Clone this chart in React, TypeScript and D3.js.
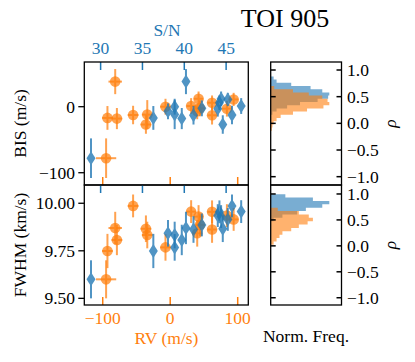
import React from 'react';
import * as d3 from 'd3';

// one entry per spectrum
const rv = [-95, -81.5, -93, -79, -55, -36, -34, -7, 31, 40, 62, 62, 94, 44, 84, 42];
const rvErr = [15, 10, 8, 8, 8, 8, 8, 8, 7, 7, 7, 7, 7, 7, 7, 7];
const snr = [28.85, 40.2, 36.3, 39.7, 45.7, 44.6, 38.85, 38.85, 46.8, 38.05, 41.1, 44.2, 45.2, 42.1, 44.0, 44.4];
const bis = [-78, 38, -17, -18, -12.6, -27, -12, 0, 1, -7, -13, 6, 11, -2.5, -3, 12];
const bisErr = [30, 19, 18, 16, 14, 14, 22, 12, 12, 12, 14, 11, 10, 12, 12, 11];
const fwhm = [9.6, 9.87, 9.749, 9.807, 9.986, 9.866, 9.833, 9.768, 9.956, 9.842, 9.862, 9.955, 9.915, 9.886, 9.935, 9.93];
const fwhmErr = [0.1, 0.085, 0.09, 0.08, 0.06, 0.07, 0.07, 0.07, 0.06, 0.07, 0.07, 0.06, 0.06, 0.06, 0.06, 0.06];

// correlation coefficient histograms (normalised frequency)
const bisRhoEdges = [-0.14, -0.08, -0.02, 0.04, 0.1, 0.16, 0.22, 0.28, 0.34, 0.4, 0.46, 0.52, 0.58, 0.64, 0.7, 0.76, 0.82, 0.88];
const bisRhoRv = [0.02, 0.03, 0.05, 0.1, 0.17, 0.38, 0.62, 0.9, 1.0, 0.97, 0.88, 0.65, 0.38, 0.06, 0, 0, 0];
const bisRhoSnr = [0, 0, 0, 0, 0, 0.03, 0.1, 0.28, 0.5, 0.8, 0.98, 1.0, 0.88, 0.68, 0.35, 0.1, 0.05];
const fwhmRhoEdges = [0.02, 0.085, 0.15, 0.215, 0.28, 0.345, 0.41, 0.475, 0.54, 0.605, 0.67, 0.735, 0.8, 0.865, 0.93, 0.995];
const fwhmRhoRv = [0.05, 0.1, 0.15, 0.2, 0.35, 0.48, 0.63, 0.72, 0.65, 0.48, 0.12, 0, 0, 0, 0];
const fwhmRhoSnr = [0, 0, 0, 0, 0, 0, 0, 0.05, 0.2, 0.45, 0.6, 0.88, 1.0, 0.72, 0.25];

const rvTicks = [-100, 0, 100];
const snrTicks = [30, 35, 40, 45];
const bisTicks = [-100, 0];
const fwhmTicks = [9.5, 9.75, 10.0];
const rhoTicks = [-1, -0.5, 0, 0.5, 1];

const BLUE = '#1f77b4';
const ORANGE = '#ff7f0e';
const FONT = '"Liberation Serif", "DejaVu Serif", serif';
const FS = 17.5;

const minus = (s: string) => s.replace('-', '\u2212');

const X0 = 84.3, X1 = 248.3;
const xRv = d3.scaleLinear().domain([-127.3, 115.7]).range([X0, X1]);
const xSnr = d3.scaleLinear().domain([28.05, 47.65]).range([X0, X1]);
const yBis = d3.scaleLinear().domain([-118.6, 67.7]).range([185, 62]);
const yFwhm = d3.scaleLinear().domain([9.465, 10.096]).range([305, 185]);
const xFreq = d3.scaleLinear().domain([0, 1.208]).range([270.7, 341.5]);
const yRhoTop = d3.scaleLinear().domain([-1.156, 1.15]).range([185, 62]);
const yRhoBot = d3.scaleLinear().domain([-1.14, 1.173]).range([305, 185]);

function Scatter({ y, vals, errs }: { y: d3.ScaleLinear<number, number>; vals: number[]; errs: number[] }) {
  const [top, bottom] = [y.range()[1], y.range()[0]];
  return (
    <g>
      <defs>
        <clipPath id={'clip' + top}>
          <rect x={X0} y={top} width={X1 - X0} height={bottom - top} />
        </clipPath>
      </defs>
      <g clipPath={`url(#clip${top})`}>
        {vals.map((v, i) => (
          <g key={'o' + i} opacity={0.72}>
            <line x1={xRv(rv[i] - rvErr[i])} x2={xRv(rv[i] + rvErr[i])} y1={y(v)} y2={y(v)} stroke={ORANGE} strokeWidth={2} />
            <line x1={xRv(rv[i])} x2={xRv(rv[i])} y1={y(v - errs[i])} y2={y(v + errs[i])} stroke={ORANGE} strokeWidth={2} />
          </g>
        ))}
        {vals.map((v, i) => (
          <circle key={'oc' + i} cx={xRv(rv[i])} cy={y(v)} r={5.3} fill={ORANGE} opacity={0.72} />
        ))}
        {vals.map((v, i) => (
          <g key={'b' + i} opacity={0.78}>
            <line x1={xSnr(snr[i])} x2={xSnr(snr[i])} y1={y(v - errs[i])} y2={y(v + errs[i])} stroke={BLUE} strokeWidth={2} />
            <path d={`M${xSnr(snr[i])},${y(v) - 7}l4.5,7l-4.5,7l-4.5,-7z`} fill={BLUE} />
          </g>
        ))}
      </g>
      {snrTicks.map(t => (
        <line key={'st' + t} x1={xSnr(t)} x2={xSnr(t)} y1={top} y2={top + 8} stroke={BLUE} strokeWidth={1.5} />
      ))}
      {rvTicks.map(t => (
        <line key={'rt' + t} x1={xRv(t)} x2={xRv(t)} y1={bottom} y2={bottom - 8} stroke={ORANGE} strokeWidth={1.5} />
      ))}
      <rect x={X0} y={top} width={X1 - X0} height={bottom - top} fill="none" stroke="#000" strokeWidth={1.3} />
    </g>
  );
}

function histPath(edges: number[], vals: number[], y: d3.ScaleLinear<number, number>) {
  const p = d3.path();
  p.moveTo(xFreq(0), y(edges[0]));
  vals.forEach((v, i) => {
    p.lineTo(xFreq(v), y(edges[i]));
    p.lineTo(xFreq(v), y(edges[i + 1]));
  });
  p.lineTo(xFreq(0), y(edges[edges.length - 1]));
  p.closePath();
  return p.toString();
}

function Hist({ y, edges, a, b }: { y: d3.ScaleLinear<number, number>; edges: number[]; a: number[]; b: number[] }) {
  const [top, bottom] = [y.range()[1], y.range()[0]];
  const fmt = d3.format('.1f');
  return (
    <g>
      <path d={histPath(edges, b, y)} fill={BLUE} opacity={0.6} />
      <path d={histPath(edges, a, y)} fill={ORANGE} opacity={0.6} />
      {rhoTicks.map(t => (
        <g key={t}>
          <line x1={xFreq.range()[0]} x2={xFreq.range()[0] + 5} y1={y(t)} y2={y(t)} stroke="#000" strokeWidth={1.5} />
          <line x1={xFreq.range()[1]} x2={xFreq.range()[1] - 5} y1={y(t)} y2={y(t)} stroke="#000" strokeWidth={1.5} />
          <text x={347} y={y(t)} dy="0.35em" fontSize={FS}>{minus(fmt(t))}</text>
        </g>
      ))}
      <rect x={xFreq.range()[0]} y={top} width={xFreq.range()[1] - xFreq.range()[0]} height={bottom - top} fill="none" stroke="#000" strokeWidth={1.3} />
      <text transform={`translate(396,${(top + bottom) / 2}) rotate(-90)`} textAnchor="middle" fontSize={FS} fontStyle="italic">ρ</text>
    </g>
  );
}

export default function App() {
  const f2 = d3.format('.2f');
  return (
    <svg width={415} height={362} style={{ position: 'absolute', left: 0, top: 0, background: '#fff' }} fontFamily={FONT}>
      <text x={285} y={27} textAnchor="middle" fontSize={26}>TOI 905</text>
      <text x={167} y={35.5} textAnchor="middle" fontSize={FS} fill={BLUE}>S/N</text>
      {snrTicks.map(t => (
        <text key={t} x={xSnr(t)} y={54} textAnchor="middle" fontSize={FS} fill={BLUE}>{t}</text>
      ))}

      <Scatter y={yBis} vals={bis} errs={bisErr} />
      <Scatter y={yFwhm} vals={fwhm} errs={fwhmErr} />

      {bisTicks.map(t => (
        <g key={'bt' + t}>
          <line x1={X0} x2={X0 - 6} y1={yBis(t)} y2={yBis(t)} stroke="#000" strokeWidth={1.3} />
          <text x={75} y={yBis(t)} dy="0.35em" textAnchor="end" fontSize={FS}>{minus(String(t))}</text>
        </g>
      ))}
      {fwhmTicks.map(t => (
        <g key={'ft' + t}>
          <line x1={X0} x2={X0 - 6} y1={yFwhm(t)} y2={yFwhm(t)} stroke="#000" strokeWidth={1.3} />
          <text x={75} y={yFwhm(t)} dy="0.35em" textAnchor="end" fontSize={FS}>{f2(t)}</text>
        </g>
      ))}
      {rvTicks.map(t => (
        <text key={'rl' + t} x={xRv(t)} y={324} textAnchor="middle" fontSize={FS} fill={ORANGE}>{minus(String(t))}</text>
      ))}
      <text x={166.5} y={344} textAnchor="middle" fontSize={FS} fill={ORANGE}>RV (m/s)</text>
      <text transform="translate(26,123.5) rotate(-90)" textAnchor="middle" fontSize={FS}>BIS (m/s)</text>
      <text transform="translate(26,245) rotate(-90)" textAnchor="middle" fontSize={FS}>FWHM (km/s)</text>

      <Hist y={yRhoTop} edges={bisRhoEdges} a={bisRhoRv} b={bisRhoSnr} />
      <Hist y={yRhoBot} edges={fwhmRhoEdges} a={fwhmRhoRv} b={fwhmRhoSnr} />
      <text x={306} y={342} textAnchor="middle" fontSize={FS}>Norm. Freq.</text>
    </svg>
  );
}
